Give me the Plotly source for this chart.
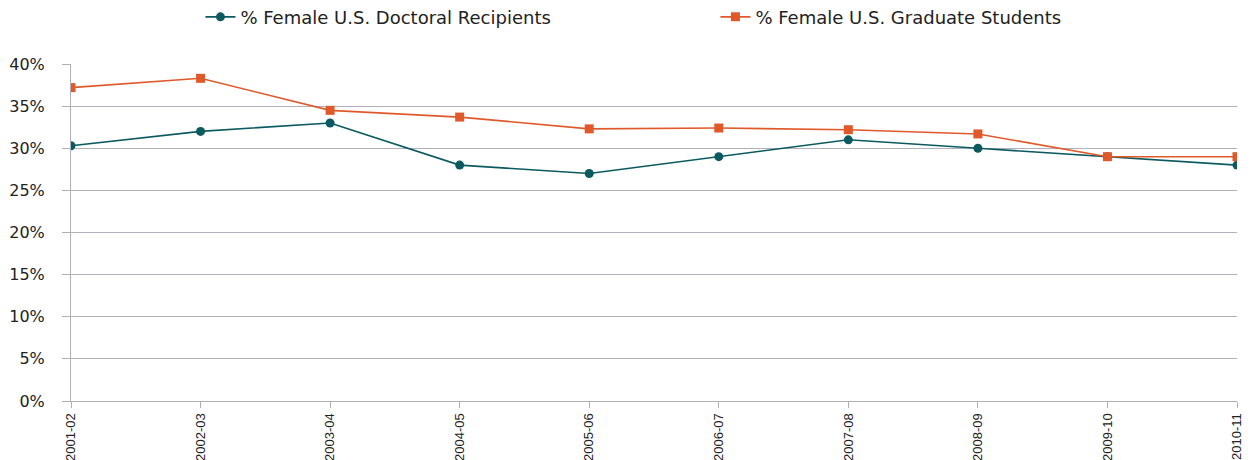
import plotly.graph_objects as go

years = ["2001-02", "2002-03", "2003-04", "2004-05", "2005-06",
         "2006-07", "2007-08", "2008-09", "2009-10", "2010-11"]
doctoral = [0.303, 0.320, 0.330, 0.280, 0.270, 0.290, 0.310, 0.300, 0.290, 0.280]
graduate = [0.372, 0.383, 0.345, 0.337, 0.323, 0.324, 0.322, 0.317, 0.290, 0.290]

teal = "#0b5a60"
orange = "#e0592a"

fig = go.Figure()
fig.add_trace(go.Scatter(
    x=years, y=doctoral, name="% Female U.S. Doctoral Recipients",
    mode="lines+markers",
    line=dict(color=teal, width=1.6),
    marker=dict(symbol="circle", size=9, color=teal)))
fig.add_trace(go.Scatter(
    x=years, y=graduate, name="% Female U.S. Graduate Students",
    mode="lines+markers",
    line=dict(color=orange, width=1.6),
    marker=dict(symbol="square", size=9, color=orange)))

fig.update_layout(
    width=1252, height=460,
    margin=dict(l=63, r=23, t=56, b=67, autoexpand=False),
    plot_bgcolor="white", paper_bgcolor="white",
    font=dict(family="DejaVu Sans", size=14, color="#222222"),
    legend=dict(orientation="h", x=0.111, xanchor="left", y=1.139, yanchor="middle",
                font=dict(size=18), entrywidth=470, entrywidthmode="pixels"),
    showlegend=True)
fig.update_xaxes(
    type="category", range=[0, 9], automargin=False,
    showgrid=False, showline=True, linecolor="#b0b0bc", linewidth=1,
    ticks="outside", ticklen=6, tickcolor="#b0b0bc",
    tickangle=-90,
    tickfont=dict(family="Liberation Sans", size=13, color="#222222"))
fig.update_yaxes(
    range=[0, 0.40], dtick=0.05, tickformat=".0%", automargin=False,
    showgrid=True, gridcolor="#b0b0bc", gridwidth=1,
    showline=True, linecolor="#b0b0bc", zeroline=False,
    ticks="outside", ticklen=8, tickcolor="#b0b0bc", ticklabelstandoff=14,
    tickfont=dict(family="DejaVu Sans", size=16, color="#222222"))

fig.write_html("out.html")
